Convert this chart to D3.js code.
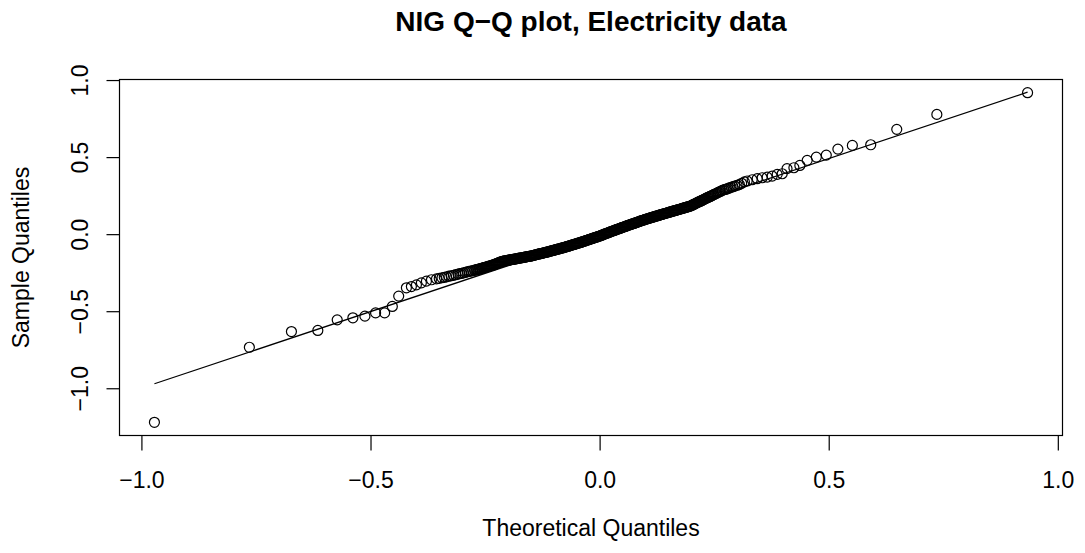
<!DOCTYPE html>
<html>
<head>
<meta charset="utf-8">
<script src="https://cdn.jsdelivr.net/npm/d3@7"></script>
<style>
  html, body { margin: 0; padding: 0; background: #fff; }
  svg { display: block; font-family: "Liberation Sans", Arial, Helvetica, sans-serif; }
</style>
</head>
<body>
<svg id="chart" width="1085" height="553"></svg>
<script>
// Theoretical NIG quantiles (x) and sorted sample quantiles (y)
const theoretical = [
  -0.9716,-0.7644,-0.6726,-0.615,-0.5727,-0.5385,-0.5122,-0.4889,-0.4692,-0.4524,-0.4385,-0.4217,-0.4108,-0.3998,-0.389,-0.378,-0.367,
  -0.356,-0.350,-0.344,-0.339,-0.334,-0.329,-0.324,-0.319,-0.314,-0.309,-0.305,-0.301,-0.297,
  -0.293,-0.289,-0.285,-0.281,-0.277,-0.273,
  -0.270,-0.268,-0.266,-0.264,-0.262,-0.260,
  -0.258,-0.256,-0.254,-0.252,-0.250,-0.248,-0.246,-0.244,-0.242,-0.240,-0.238,-0.236,-0.234,-0.232,-0.230,
  -0.228,-0.226,-0.224,-0.222,-0.220,-0.218,-0.216,-0.214,
  -0.212,-0.210,-0.208,-0.206,-0.204,-0.202,-0.200,-0.198,-0.196,-0.194,-0.192,-0.190,
  -0.188,-0.186,-0.184,-0.182,-0.180,-0.178,-0.176,-0.174,-0.172,-0.170,-0.168,-0.166,-0.164,-0.162,-0.160,-0.158,-0.156,-0.154,-0.152,
  -0.150,-0.148,-0.146,-0.144,-0.142,-0.140,-0.138,-0.136,-0.134,-0.132,-0.130,-0.128,-0.126,-0.124,-0.122,-0.120,-0.118,-0.116,-0.114,
  -0.112,-0.110,-0.108,-0.106,-0.104,-0.102,-0.100,-0.098,-0.096,-0.094,-0.092,-0.090,-0.088,-0.086,-0.084,-0.082,-0.080,-0.078,
  -0.076,-0.074,-0.072,-0.070,-0.068,-0.066,-0.064,-0.062,-0.060,-0.058,-0.056,-0.054,-0.052,-0.050,-0.048,-0.046,-0.044,-0.042,
  -0.040,-0.038,-0.036,-0.034,-0.032,-0.030,-0.028,-0.026,-0.024,-0.022,-0.020,-0.018,-0.016,-0.014,-0.012,-0.010,-0.008,-0.006,-0.004,-0.002,
  0.000,0.002,0.004,0.006,0.008,0.010,0.012,0.014,0.016,0.018,0.020,0.022,0.024,0.026,0.028,0.030,
  0.032,0.034,0.036,0.038,0.040,0.042,0.044,0.046,0.048,0.050,0.052,0.054,0.056,0.058,0.060,0.062,0.064,0.066,
  0.068,0.070,0.072,0.074,0.076,0.078,0.080,0.082,0.084,0.086,0.088,0.090,0.092,0.094,0.096,0.098,0.100,
  0.102,0.104,0.106,0.108,0.110,0.112,0.114,0.116,0.118,0.120,0.122,0.124,0.126,0.128,0.130,0.132,0.134,0.136,0.138,
  0.140,0.142,0.144,0.146,0.148,0.150,0.152,0.154,0.156,0.158,0.160,0.162,0.164,0.166,0.168,
  0.170,0.172,0.174,0.176,0.178,0.180,0.182,0.184,0.186,0.188,0.190,0.192,0.194,0.196,0.198,
  0.200,0.202,0.204,0.206,0.208,0.210,0.212,0.214,0.216,0.218,0.220,0.222,0.224,0.226,
  0.228,0.230,0.232,0.234,0.236,0.238,0.240,0.242,0.244,0.246,0.248,0.250,
  0.253,0.256,0.259,0.262,0.265,0.268,0.271,0.274,0.277,0.280,0.283,0.287,0.291,0.295,0.300,0.305,0.310,0.316,
  0.322,0.333,0.344,0.3548,0.3657,0.3766,0.3876,0.3985,0.409,0.424,0.437,0.453,0.473,0.4947,0.520,0.5516,0.5917,0.6485,0.736,0.934
];

const sample = [
  -1.221,-0.734,-0.632,-0.625,-0.556,-0.543,-0.532,-0.511,-0.511,-0.469,-0.402,-0.348,-0.340,-0.329,-0.316,-0.305,-0.296,
  -0.290,-0.287,-0.283,-0.280,-0.277,-0.273,-0.270,-0.267,-0.263,-0.259,-0.256,-0.254,-0.251,
  -0.248,-0.245,-0.242,-0.239,-0.237,-0.234,
  -0.232,-0.230,-0.229,-0.227,-0.226,-0.224,
  -0.222,-0.220,-0.219,-0.217,-0.215,-0.213,-0.212,-0.210,-0.208,-0.207,-0.205,-0.203,-0.201,-0.200,-0.198,
  -0.195,-0.193,-0.190,-0.188,-0.185,-0.183,-0.180,-0.178,
  -0.177,-0.175,-0.174,-0.173,-0.172,-0.171,-0.170,-0.169,-0.167,-0.166,-0.165,-0.164,
  -0.163,-0.162,-0.161,-0.160,-0.158,-0.157,-0.156,-0.155,-0.154,-0.153,-0.152,-0.151,-0.150,-0.148,-0.147,-0.146,-0.145,-0.144,-0.143,
  -0.142,-0.140,-0.139,-0.137,-0.136,-0.134,-0.133,-0.131,-0.130,-0.128,-0.127,-0.126,-0.124,-0.123,-0.121,-0.120,-0.118,-0.117,-0.116,
  -0.114,-0.112,-0.111,-0.109,-0.107,-0.106,-0.104,-0.103,-0.101,-0.099,-0.098,-0.096,-0.095,-0.093,-0.091,-0.090,-0.088,-0.087,
  -0.085,-0.083,-0.081,-0.079,-0.078,-0.076,-0.074,-0.072,-0.070,-0.068,-0.067,-0.065,-0.063,-0.061,-0.059,-0.057,-0.056,-0.054,
  -0.052,-0.050,-0.048,-0.046,-0.044,-0.042,-0.040,-0.038,-0.036,-0.034,-0.032,-0.030,-0.028,-0.026,-0.024,-0.022,-0.020,-0.018,-0.016,-0.014,
  -0.012,-0.010,-0.007,-0.005,-0.003,0.000,0.002,0.004,0.006,0.009,0.011,0.013,0.015,0.018,0.020,0.022,
  0.024,0.026,0.029,0.031,0.033,0.035,0.037,0.039,0.042,0.044,0.046,0.048,0.050,0.052,0.055,0.057,0.059,0.061,
  0.063,0.065,0.067,0.069,0.071,0.073,0.075,0.077,0.080,0.082,0.084,0.086,0.088,0.090,0.092,0.094,0.096,
  0.098,0.100,0.101,0.103,0.105,0.107,0.109,0.110,0.112,0.114,0.116,0.118,0.119,0.121,0.123,0.125,0.127,0.128,0.130,
  0.132,0.134,0.135,0.137,0.139,0.141,0.142,0.144,0.146,0.148,0.149,0.151,0.153,0.154,0.156,
  0.158,0.160,0.161,0.163,0.165,0.167,0.168,0.170,0.172,0.174,0.175,0.177,0.179,0.180,0.182,
  0.185,0.188,0.191,0.194,0.197,0.200,0.203,0.206,0.209,0.211,0.214,0.217,0.220,0.223,
  0.226,0.229,0.232,0.235,0.238,0.241,0.243,0.246,0.249,0.252,0.255,0.258,
  0.262,0.266,0.271,0.275,0.280,0.284,0.288,0.290,0.293,0.296,0.300,0.304,0.308,0.312,0.317,0.322,0.330,0.339,
  0.345,0.353,0.360,0.366,0.370,0.377,0.388,0.392,0.425,0.431,0.446,0.479,0.500,0.513,0.552,0.576,0.580,0.680,0.777,0.918
];

// Reference line through the quartiles
const lineIntercept = -0.006;
const lineSlope = 0.993;

const xTicks = [-1.0, -0.5, 0.0, 0.5, 1.0];
const yTicks = [-1.0, -0.5, 0.0, 0.5, 1.0];

const titleText = "NIG Q\u2212Q plot, Electricity data";
const xLabel = "Theoretical Quantiles";
const yLabel = "Sample Quantiles";

// Plot region
const box = { left: 119.5, right: 1062.5, top: 79.5, bottom: 435.5 };
const fontSize = 23;

const svg = d3.select("#chart");

// Data range padded by 4% on each side
function padded(ext) {
  const d = (ext[1] - ext[0]) * 0.04;
  return [ext[0] - d, ext[1] + d];
}

const x = d3.scaleLinear().domain(padded(d3.extent(theoretical))).range([box.left, box.right]);
const y = d3.scaleLinear().domain(padded(d3.extent(sample))).range([box.bottom, box.top]);

const fmt = d3.format(".1f");
const tickFmt = v => fmt(v).replace("-", "\u2212");

// Points
const n = Math.min(theoretical.length, sample.length);
const pts = d3.range(n).map(i => ({ t: theoretical[i], s: sample[i] }));
svg.append("g")
  .selectAll("circle")
  .data(pts)
  .join("circle")
  .attr("cx", d => x(d.t))
  .attr("cy", d => y(d.s))
  .attr("r", 5)
  .attr("fill", "none")
  .attr("stroke", "#000")
  .attr("stroke-width", 1.2);

// Reference line
const xMin = d3.min(theoretical), xMax = d3.max(theoretical);
svg.append("line")
  .attr("x1", x(xMin)).attr("y1", y(lineIntercept + lineSlope * xMin))
  .attr("x2", x(xMax)).attr("y2", y(lineIntercept + lineSlope * xMax))
  .attr("stroke", "#000")
  .attr("stroke-width", 1.2);

// Frame
svg.append("rect")
  .attr("x", box.left).attr("y", box.top)
  .attr("width", box.right - box.left)
  .attr("height", box.bottom - box.top)
  .attr("fill", "none")
  .attr("stroke", "#000")
  .attr("stroke-width", 1.2);

// Bottom axis
const xAxis = d3.axisBottom(x).tickValues(xTicks).tickFormat(tickFmt).tickSize(15);
const gx = svg.append("g").attr("transform", `translate(0,${box.bottom})`).call(xAxis);
gx.select(".domain").remove();
gx.selectAll(".tick line").attr("stroke", "#000").attr("stroke-width", 1.2);
gx.selectAll(".tick text")
  .attr("fill", "#000")
  .attr("font-size", fontSize)
  .attr("font-family", "Liberation Sans, Arial, sans-serif")
  .attr("dy", 0)
  .attr("y", 488 - box.bottom)
  .attr("text-anchor", "middle");

// Left axis with rotated labels
const yAxis = d3.axisLeft(y).tickValues(yTicks).tickFormat(tickFmt).tickSize(13);
const gy = svg.append("g").attr("transform", `translate(${box.left},0)`).call(yAxis);
gy.select(".domain").remove();
gy.selectAll(".tick line").attr("stroke", "#000").attr("stroke-width", 1.2);
gy.selectAll(".tick text")
  .attr("fill", "#000")
  .attr("font-size", fontSize)
  .attr("font-family", "Liberation Sans, Arial, sans-serif")
  .attr("x", null).attr("dy", null)
  .attr("text-anchor", "middle")
  .attr("transform", `translate(${88 - box.left},0) rotate(-90)`);

// Titles
const cx = (box.left + box.right) / 2;
const cy = (box.top + box.bottom) / 2;

svg.append("text")
  .attr("x", cx).attr("y", 31)
  .attr("text-anchor", "middle")
  .attr("font-size", 28)
  .attr("font-weight", "bold")
  .text(titleText);

svg.append("text")
  .attr("x", cx).attr("y", 536)
  .attr("text-anchor", "middle")
  .attr("font-size", fontSize)
  .text(xLabel);

svg.append("text")
  .attr("transform", `translate(29,${cy}) rotate(-90)`)
  .attr("text-anchor", "middle")
  .attr("font-size", fontSize)
  .text(yLabel);
</script>
</body>
</html>
